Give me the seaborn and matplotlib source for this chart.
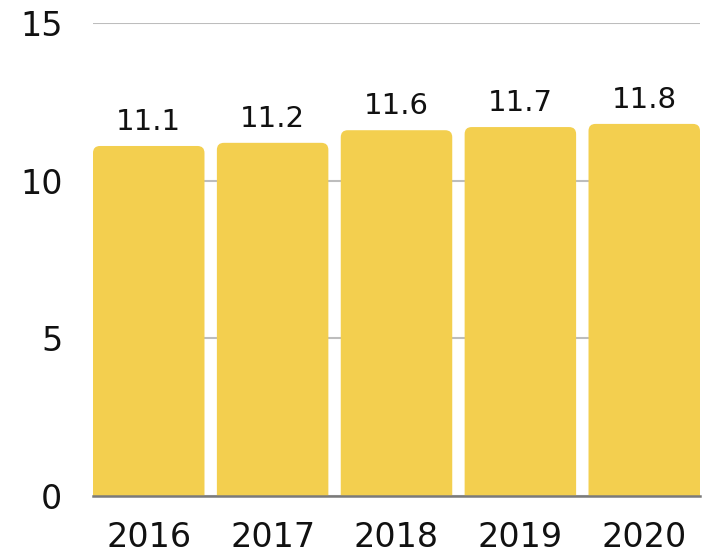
import matplotlib
matplotlib.use("Agg")
import matplotlib.pyplot as plt
import seaborn as sns
import pandas as pd
from matplotlib.patches import FancyBboxPatch

years = ["2016", "2017", "2018", "2019", "2020"]
values = [11.1, 11.2, 11.6, 11.7, 11.8]
y_ticks = [0, 5, 10, 15]

bar_color = "#F3CF4F"

sns.set_style("white")
plt.rcParams["font.family"] = ["DejaVu Sans"]

df = pd.DataFrame({"year": years, "value": values})

fig = plt.figure(figsize=(7.08, 5.58), dpi=100)
ax = fig.add_axes([93 / 708, 62 / 558, 607 / 708, 473 / 558])

sns.barplot(data=df, x="year", y="value", color=bar_color, width=0.9,
            saturation=1, ax=ax)

ax.set_xlim(-0.45, 4.45)
ax.set_ylim(0, 15)

# swap plain bars for ones with rounded top corners
px_x = 4.9 / 607
px_y = 15 / 473
r = 7 * px_x
for p in list(ax.patches):
    x0, w, h = p.get_x(), p.get_width(), p.get_height()
    p.set_visible(False)
    fb = FancyBboxPatch((x0, -1), w, h + 1,
                        boxstyle=f"round,pad=0,rounding_size={r}",
                        mutation_aspect=px_y / px_x,
                        facecolor=bar_color, edgecolor="none", zorder=3)
    ax.add_patch(fb)
    ax.annotate(f"{h:.1f}", (x0 + w / 2, h), xytext=(0, 7),
                textcoords="offset points", ha="center", va="bottom",
                fontsize=21, color="#111111")

ax.set_yticks(y_ticks)
ax.yaxis.grid(True, color="#bdbdbd", linewidth=1.5, zorder=0)
ax.set_axisbelow(True)
for s in ["top", "right", "left"]:
    ax.spines[s].set_visible(False)
ax.spines["bottom"].set_color("#7a7a7a")
ax.spines["bottom"].set_linewidth(1.8)
ax.spines["bottom"].set_zorder(4)

ax.tick_params(axis="y", length=0, pad=22, labelsize=24, labelcolor="#111111")
ax.tick_params(axis="x", length=0, pad=18, labelsize=24, labelcolor="#111111")
ax.set_xlabel("")
ax.set_ylabel("")

fig.savefig("out.png", dpi=100)
